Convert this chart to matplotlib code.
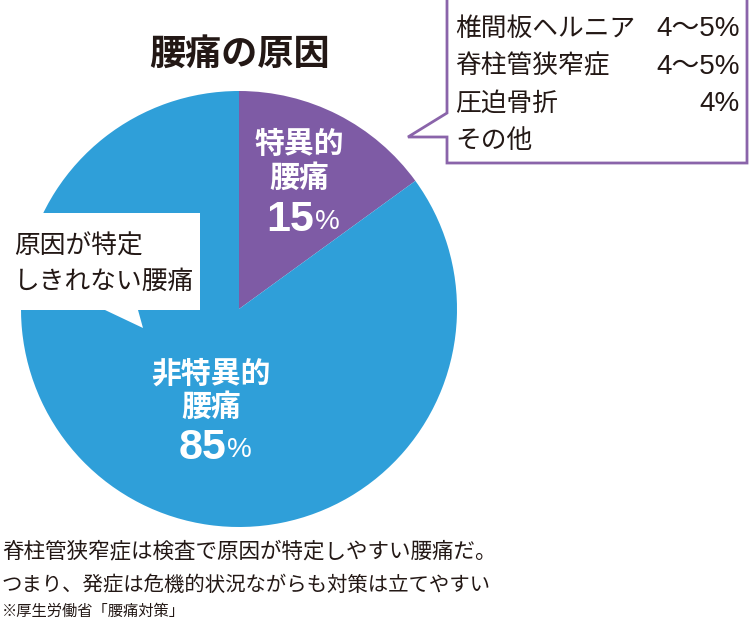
import matplotlib
matplotlib.use("Agg")
import matplotlib.pyplot as plt
from matplotlib.patches import Polygon

plt.rcParams['font.family'] = ['Noto Sans CJK JP', 'DejaVu Sans']

# data
shares = [15, 85]
share_labels = ["特異的\n腰痛", "非特異的\n腰痛"]
share_colors = ["#7E5BA5", "#2F9FD9"]

detail_names = ["椎間板ヘルニア", "脊柱管狭窄症", "圧迫骨折", "その他"]
detail_values = ["4〜5%", "4〜5%", "4%", ""]

title = "腰痛の原因"
left_note = "原因が特定\nしきれない腰痛"
foot_lines = ["脊柱管狭窄症は検査で原因が特定しやすい腰痛だ。",
              "つまり、発症は危機的状況ながらも対策は立てやすい"]
source = "※厚生労働省「腰痛対策」"

W, H = 750, 621
TXT = "#231815"

def Y(y):
    # picture coords (y down) -> axes coords (y up)
    return H - y

fig = plt.figure(figsize=(7.5, 6.21), dpi=100)
ax = fig.add_axes([0, 0, 1, 1])

ax.pie(shares, colors=share_colors, startangle=90, counterclock=False,
       center=(239, Y(309)), radius=218, frame=True,
       wedgeprops=dict(linewidth=0))
ax.set_xlim(0, W)
ax.set_ylim(0, H)
ax.set_aspect('equal')
ax.axis('off')

ax.text(239, Y(54), title, ha='center', va='center', fontsize=26,
        fontweight='bold', color=TXT)

# wedge labels
ax.text(299, Y(161), share_labels[0], ha='center', va='center', fontsize=21.5,
        fontweight='bold', color='white', linespacing=1.15)
ax.text(211, Y(390), share_labels[1], ha='center', va='center', fontsize=21.5,
        fontweight='bold', color='white', linespacing=1.15)
for x, y, v in [(314, 220, shares[0]), (226, 448, shares[1])]:
    ax.text(x, Y(y), str(v), ha='right', va='center', fontsize=31,
            fontweight='bold', color='white', family='Liberation Sans')
    ax.text(x + 1, Y(y + 2), "%", ha='left', va='center', fontsize=20,
            color='white', family='Liberation Sans')

# right callout box
box = Polygon([(447, Y(-5)), (447, Y(113)), (408, Y(137)), (447, Y(137)),
               (447, Y(163)), (747, Y(163)), (747, Y(-5))],
              closed=True, facecolor='white', edgecolor='#8A64AA',
              linewidth=2, joinstyle='miter')
ax.add_patch(box)
for i, (n, v) in enumerate(zip(detail_names, detail_values)):
    yy = Y(29 + i * 37.5)
    ax.text(455, yy, n, ha='left', va='center', fontsize=18.5, color=TXT)
    if v:
        ax.text(740, yy, v, ha='right', va='center', fontsize=20, color=TXT,
                family=['Liberation Sans', 'Noto Sans CJK JP'])

# left callout box
lbox = Polygon([(3, Y(213)), (200, Y(213)), (200, Y(310)), (138, Y(310)),
                (143, Y(328)), (105, Y(310)), (3, Y(310))],
               closed=True, facecolor='white', edgecolor='none')
ax.add_patch(lbox)
ax.text(14, Y(264), left_note, ha='left', va='center', fontsize=18.5,
        color=TXT, linespacing=1.45)

# footnotes
ax.text(2, Y(551), foot_lines[0], ha='left', va='center', fontsize=15.5, color=TXT)
ax.text(2, Y(585), foot_lines[1], ha='left', va='center', fontsize=14.7, color=TXT)
ax.text(2, Y(611), source, ha='left', va='center', fontsize=11, color=TXT)

fig.savefig("out.png", dpi=100)
